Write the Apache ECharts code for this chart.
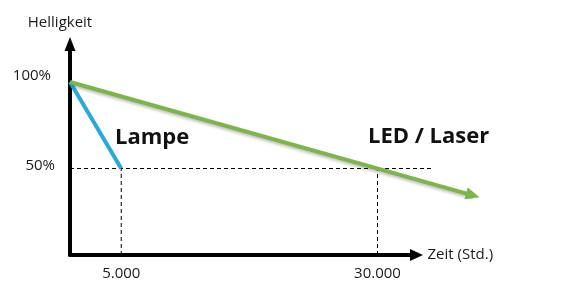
<!DOCTYPE html>
<html><head><meta charset="utf-8">
<script src="https://cdn.jsdelivr.net/npm/echarts@6/dist/echarts.min.js"></script>
<style>html,body{margin:0;padding:0;background:#fff}#c{width:565px;height:294px}</style>
</head><body><div id="c"></div>
<script>
// ---- data ----
const xTicks = [5000, 30000];          // Zeit (Std.)
const yTicks = [50, 100];              // Helligkeit %
const lampe = [[0, 100], [5000, 50]];
const led = [[0, 100], [39300, 34.5]];
const guideH = [[0, 50], [35500, 50]];
const guideV1 = [[5000, 0], [5000, 50]];
const guideV2 = [[30000, 0], [30000, 50]];
const xName = 'Zeit (Std.)';
const yName = 'Helligkeit';
const labelLampe = 'Lampe';
const labelLed = 'LED / Laser';

const fmtDE = v => String(v).replace(/\B(?=(\d{3})+(?!\d))/g, '.');
const FONT = '"Open Sans", sans-serif';

// scale shared by both grids
const X_MAX_AXIS = 33805, X_MAX_DATA = 41000, Y_MAX = 121.97;
const GRID_LEFT = 70, GRID_TOP = 44, GRID_BOTTOM = 39;
const PX_PER_X = 346.5 / X_MAX_AXIS;
const dataGridWidth = X_MAX_DATA * PX_PER_X;

const chart = echarts.init(document.getElementById('c'), null, {renderer: 'canvas'});
const dashStyle = {color: '#000', width: 1, type: [4, 3]};
const guide = (d) => ({type: 'line', data: d, symbol: 'none', xAxisIndex: 1, yAxisIndex: 1,
  silent: true, z: 1, lineStyle: dashStyle});

const ledData = led.map((p, i) => i === led.length - 1
  ? {value: p, symbol: 'triangle', symbolSize: [12, 14], symbolRotate: -106,
     itemStyle: {color: '#7ab648'}}
  : {value: p, symbol: 'none'});

const hiddenAxis = {type: 'value', show: false, axisLine: {show: false}, splitLine: {show: false},
  axisTick: {show: false}, axisLabel: {show: false}};

chart.setOption({
  animation: false,
  backgroundColor: '#fff',
  grid: [
    {left: GRID_LEFT, right: 565 - GRID_LEFT - 346.5, top: GRID_TOP, bottom: GRID_BOTTOM},
    {left: GRID_LEFT, width: dataGridWidth, top: GRID_TOP, bottom: GRID_BOTTOM}
  ],
  xAxis: [{
    type: 'value', min: 0, max: X_MAX_AXIS, gridIndex: 0,
    name: xName, nameLocation: 'end', nameGap: 11,
    nameTextStyle: {fontFamily: FONT, fontSize: 15, color: '#1a1a1a', padding: [0, 0, 4, 0]},
    axisLine: {show: true, lineStyle: {color: '#000', width: 4},
      symbol: ['none', 'triangle'], symbolSize: [12, 13]},
    axisTick: {show: false},
    splitLine: {show: false},
    axisLabel: {customValues: xTicks, formatter: v => fmtDE(v), margin: 11,
      fontFamily: FONT, fontSize: 15, color: '#1a1a1a'}
  }, Object.assign({gridIndex: 1, min: 0, max: X_MAX_DATA}, hiddenAxis)],
  yAxis: [{
    type: 'value', min: 0, max: Y_MAX, gridIndex: 0,
    name: yName, nameLocation: 'end', nameGap: 14,
    nameTextStyle: {fontFamily: FONT, fontSize: 15, color: '#1a1a1a', padding: [0, 20, 0, 0]},
    axisLine: {show: true, lineStyle: {color: '#000', width: 4},
      symbol: ['none', 'triangle'], symbolSize: [11, 14]},
    axisTick: {show: false},
    splitLine: {show: false},
    axisLabel: {customValues: yTicks, margin: 15,
      formatter: v => v === 100 ? '{a|' + v + '%}' : '{b|' + v + '%}',
      rich: {
        a: {fontFamily: FONT, fontSize: 15, color: '#1a1a1a', padding: [0, 4, 12, 0]},
        b: {fontFamily: FONT, fontSize: 15, color: '#1a1a1a', padding: [0, 0, 6, 0]}
      }}
  }, Object.assign({gridIndex: 1, min: 0, max: Y_MAX}, hiddenAxis)],
  series: [
    guide(guideH), guide(guideV1), guide(guideV2),
    {name: labelLampe, type: 'line', data: lampe, symbol: 'none', xAxisIndex: 1, yAxisIndex: 1, z: 3,
      lineStyle: {color: '#29a8e0', width: 4}},
    {name: labelLed, type: 'line', data: ledData, symbol: 'none', xAxisIndex: 1, yAxisIndex: 1, z: 3,
      lineStyle: {color: '#7ab648', width: 4, shadowColor: 'rgba(0,0,0,0.25)', shadowBlur: 3, shadowOffsetY: 2}}
  ],
  graphic: [
    {type: 'text', left: 115, top: 127, style: {text: labelLampe, fontFamily: FONT, fontWeight: 'bold', fontSize: 22, fill: '#111'}},
    {type: 'text', left: 368, top: 126, style: {text: labelLed, fontFamily: FONT, fontWeight: 'bold', fontSize: 22, fill: '#111'}}
  ]
});
</script></body></html>
